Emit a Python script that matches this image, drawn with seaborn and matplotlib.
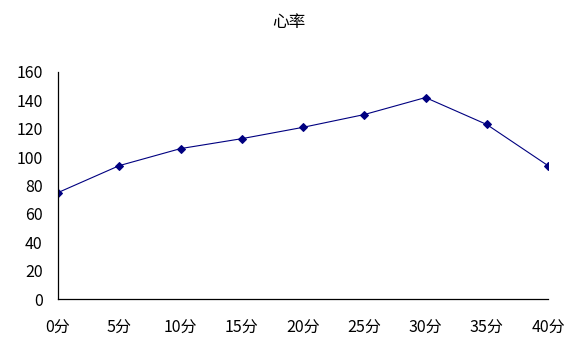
import matplotlib
matplotlib.use("Agg")
import matplotlib.pyplot as plt
import seaborn as sns
import pandas as pd

categories = ["0分", "5分", "10分", "15分", "20分", "25分", "30分", "35分", "40分"]
heart_rate = [75, 94, 106, 113, 121, 130, 142, 123, 94]
y_ticks = [0, 20, 40, 60, 80, 100, 120, 140, 160]
title = "心率"

sns.set_theme(style="white")
plt.rcParams['font.family'] = ['Noto Sans CJK SC', 'DejaVu Sans']

df = pd.DataFrame({"time": categories, "rate": heart_rate})

fig = plt.figure(figsize=(5.78, 3.52), dpi=100)
ax = fig.add_axes([58/578, 53/352, 490/578, 227/352])

sns.lineplot(data=df, x="time", y="rate", ax=ax, sort=False,
             color="#000080", linewidth=0.8, marker="D", markersize=4.5,
             markeredgecolor="#000080", markerfacecolor="#000080")

ax.set_xlim(0, len(categories) - 1)
ax.set_ylim(0, 160)
ax.set_yticks(y_ticks)
ax.set_xticks(range(len(categories)))
ax.set_xticklabels(categories)
ax.set_xlabel("")
ax.set_ylabel("")

for s in ["top", "right"]:
    ax.spines[s].set_visible(False)
for s in ["left", "bottom"]:
    ax.spines[s].set_color("black")
    ax.spines[s].set_linewidth(0.9)

ax.tick_params(axis="both", direction="in", length=4, width=0.9, color="black",
               labelsize=11.5, labelcolor="black")
ax.tick_params(axis="y", pad=11)
ax.tick_params(axis="x", pad=15)

fig.text(0.5, 1 - 22/352, title, ha="center", va="center", fontsize=12, color="black")

fig.savefig("out.png", dpi=100)
